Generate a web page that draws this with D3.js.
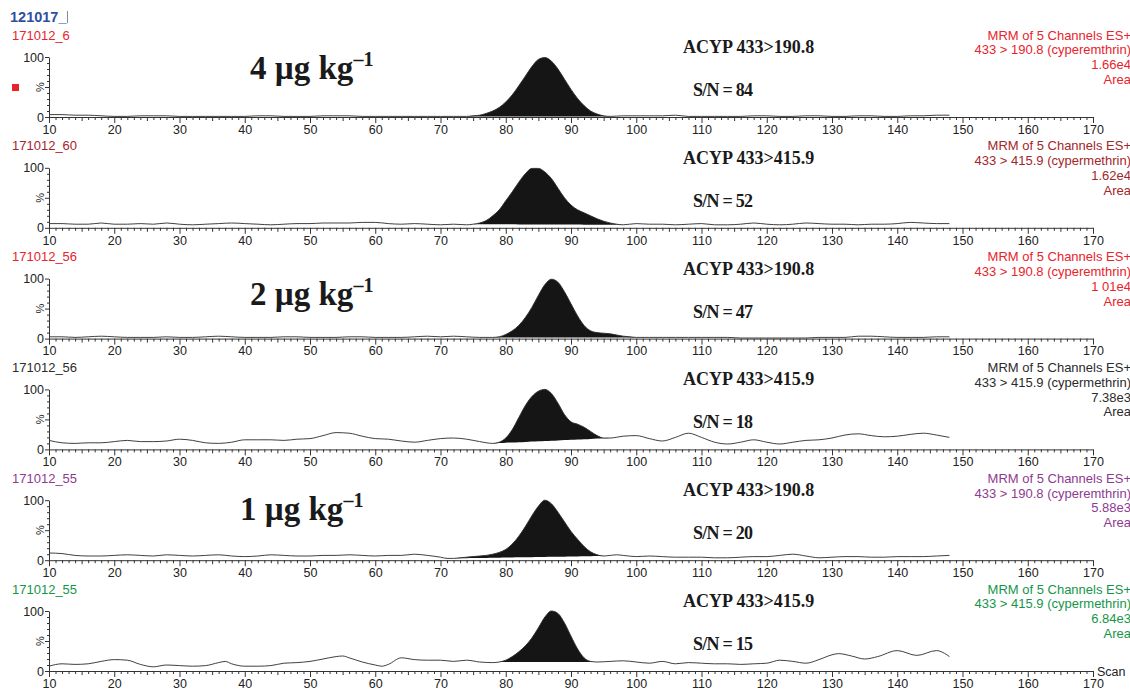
<!DOCTYPE html>
<html><head><meta charset="utf-8">
<script src="https://cdn.jsdelivr.net/npm/d3@7"></script>
<style>body{margin:0;background:#fff}svg{display:block}</style>
</head><body>
<svg id="c" width="1130" height="690"></svg>
<script>
// ---------- data ----------
const xTicks = [10,20,30,40,50,60,70,80,90,100,110,120,130,140,150,160,170];
const headerLabel = "121017_";
const sampleNames = ["171012_6","171012_60","171012_56","171012_56","171012_55","171012_55"];
const panelColors = ["#e8232b","#a3262a","#e8232b","#2b2b2b","#8e3b8f","#14964a"];
const mrmLabel = "MRM of 5 Channels ES+";
const transitions = ["433 > 190.8 (cyperemthrin)","433 > 415.9 (cypermethrin)","433 > 190.8 (cyperemthrin)","433 > 415.9 (cypermethrin)","433 > 190.8 (cyperemthrin)","433 > 415.9 (cypermethrin)"];
const intensities = ["1.66e4","1.62e4","1 01e4","7.38e3","5.88e3","6.84e3"];
const compoundLabels = ["ACYP 433>190.8","ACYP 433>415.9","ACYP 433>190.8","ACYP 433>415.9","ACYP 433>190.8","ACYP 433>415.9"];
const snValues = [84,52,47,18,20,15];
const concLabels = [{panel:0,num:"4"},{panel:2,num:"2"},{panel:4,num:"1"}];
const peakStart = [74,75,78,78,72,79];
const peakEnd   = [96,98,100,96,95,94];

const trace1 = [[10,4],[12,4],[14,3],[16,3],[18,2],[20,1],[22,1],[24,2],[26,2],[28,2],[30,1],[32,1],[34,1],[36,1],[38,1],[40,1],[42,2],[44,2],[46,1],[48,1],[50,1],[52,2],[54,2],[56,2],[58,1],[60,1],[62,1],[64,1],[66,1],[68,1],[70,1],[72,1],[74,1],[75,2],[76,3],[77,6],[78,10],[79,16],[80,25],[81,37],[82,52],[83,68],[84,84],[85,96],[86,99],[87,93],[88,80],[89,63],[90,46],[91,31],[92,19],[93,10],[94,5],[95,2],[96,1],[98,2],[100,2],[102,2],[104,2],[106,3],[108,1],[110,1],[112,1],[114,1],[116,1],[118,2],[120,2],[122,1],[124,1],[126,2],[128,2],[130,1],[132,1],[134,2],[136,2],[138,1],[140,1],[142,2],[144,2],[146,3],[148,3]];
const trace2 = [[10,7],[12,7],[14,6],[16,6],[18,8],[20,6],[22,6],[24,7],[26,6],[28,8],[30,6],[32,5],[34,6],[36,7],[38,8],[40,7],[42,6],[44,5],[46,6],[48,7],[50,7],[52,8],[54,8],[56,8],[58,9],[60,9],[62,7],[64,6],[66,7],[68,6],[70,5],[72,6],[74,5],[75,6],[76,8],[77,12],[78,20],[79,30],[80,45],[81,60],[82,76],[83,90],[84,99],[85,99],[86,93],[87,82],[88,66],[89,50],[90,38],[91,30],[92,25],[93,20],[94,15],[95,11],[96,8],[97,6],[98,5],[100,7],[102,6],[104,6],[106,5],[108,6],[110,7],[112,5],[114,5],[116,6],[118,8],[120,6],[122,5],[124,6],[126,8],[128,7],[130,6],[132,6],[134,5],[136,6],[138,6],[140,7],[142,9],[144,8],[146,7],[148,7]];
const trace3 = [[10,3],[12,3],[14,2],[16,3],[18,4],[20,3],[22,2],[24,2],[26,2],[28,3],[30,2],[32,2],[34,3],[36,4],[38,3],[40,2],[42,2],[44,2],[46,3],[48,3],[50,2],[52,2],[54,2],[56,3],[58,3],[60,2],[62,2],[64,2],[66,3],[68,4],[70,3],[72,4],[74,3],[76,2],[78,2],[79,3],[80,7],[81,13],[82,22],[83,35],[84,52],[85,72],[86,90],[87,99],[88,94],[89,78],[90,58],[91,38],[92,22],[93,13],[94,10],[95,9],[96,8],[97,6],[98,4],[99,3],[100,2],[102,2],[104,2],[106,2],[108,2],[110,2],[112,2],[114,2],[116,1],[118,1],[120,1],[122,1],[124,1],[126,1],[128,2],[130,2],[132,2],[134,4],[136,4],[138,3],[140,2],[142,2],[144,2],[146,3],[148,3]];
const trace4 = [[10,15],[12,11],[14,10],[16,11],[18,11],[20,13],[22,15],[24,13],[26,13],[28,14],[30,17],[32,15],[34,11],[36,10],[38,12],[40,16],[42,16],[44,16],[46,15],[48,17],[50,18],[52,23],[54,28],[56,27],[58,22],[60,18],[62,17],[64,14],[66,12],[68,15],[70,18],[72,19],[74,17],[76,13],[78,10],[79,12],[80,19],[81,33],[82,53],[83,73],[84,88],[85,97],[86,100],[87,93],[88,77],[89,58],[90,46],[91,42],[92,37],[93,30],[94,23],[95,19],[96,19],[98,22],[100,23],[102,18],[104,14],[106,20],[108,27],[110,20],[112,12],[114,9],[116,12],[118,16],[120,12],[122,9],[124,12],[126,15],[128,16],[130,19],[132,24],[134,26],[136,23],[138,21],[140,22],[142,25],[144,27],[146,24],[148,20]];
const trace5 = [[10,12],[12,11],[14,8],[16,7],[18,7],[20,8],[22,9],[24,8],[26,7],[28,9],[30,8],[32,7],[34,8],[36,9],[38,7],[40,6],[42,7],[44,9],[46,8],[48,7],[50,7],[52,8],[54,8],[56,9],[58,8],[60,7],[62,8],[64,8],[66,10],[68,8],[70,5],[71,3],[72,3],[73,4],[74,5],[75,6],[76,7],[77,8],[78,10],[79,13],[80,18],[81,27],[82,40],[83,56],[84,74],[85,90],[86,100],[87,94],[88,80],[89,64],[90,48],[91,35],[92,23],[93,14],[94,9],[95,7],[96,8],[97,9],[98,8],[100,6],[102,7],[104,6],[106,5],[108,5],[110,5],[112,4],[114,4],[116,5],[118,6],[120,6],[122,8],[124,10],[126,7],[128,4],[130,5],[132,6],[134,6],[136,5],[138,5],[140,6],[142,6],[144,6],[146,7],[148,8]];
const trace6 = [[10,8],[12,12],[14,11],[16,12],[18,16],[20,19],[22,18],[24,11],[26,7],[28,10],[30,9],[32,8],[34,9],[36,14],[37,16],[38,12],[40,8],[42,8],[44,9],[46,13],[48,14],[50,16],[52,20],[54,24],[55,25],[56,22],[58,15],[60,10],[61,8],[62,11],[64,22],[66,19],[68,18],[70,18],[72,16],[74,18],[76,15],[78,14],[79,15],[80,18],[81,24],[82,32],[83,42],[84,55],[85,72],[86,90],[87,100],[88,96],[89,80],[90,58],[91,37],[92,22],[93,16],[94,15],[96,16],[98,17],[100,15],[102,13],[104,16],[106,12],[108,14],[110,13],[112,12],[114,12],[116,11],[118,12],[120,13],[122,18],[124,16],[126,13],[128,19],[130,27],[131,29],[133,25],[135,20],[137,24],[140,34],[143,26],[146,34],[148,24]];
const traces = [trace1,trace2,trace3,trace4,trace5,trace6];

// ---------- layout ----------
const svg = d3.select("#c");
const sans = "'Liberation Sans', Arial, sans-serif";
const serif = "'Liberation Serif', 'Times New Roman', serif";
const x = d3.scaleLinear().domain([10,170]).range([49,1093]);
const panelStep = 110.8, firstZero = 117, panelH = 60;

svg.append("text").attr("x",10).attr("y",22).attr("font-family",sans).attr("font-weight","bold")
  .attr("font-size",14.5).attr("fill","#2f4f9f").text(headerLabel);
svg.append("line").attr("x1",67.5).attr("x2",67.5).attr("y1",11).attr("y2",23).attr("stroke","#8a8a8a").attr("stroke-width",1);

traces.forEach((tr,i)=>{
  const z = firstZero + i*panelStep;
  const y = d3.scaleLinear().domain([0,100]).range([z, z-panelH]);
  const g = svg.append("g");
  const col = panelColors[i];

  // sample name
  g.append("text").attr("x",12).attr("y",z-77.5).attr("font-family",sans).attr("font-size",13)
    .attr("fill",col).text(sampleNames[i]);

  // right labels
  const rl = [mrmLabel, transitions[i], intensities[i], "Area"];
  rl.forEach((t,k)=>{
    g.append("text").attr("x",1131).attr("y",z-77.5+k*14.8).attr("text-anchor","end")
      .attr("font-family",sans).attr("font-size",13).attr("fill",col).text(t);
  });

  // peak fill
  const s = peakStart[i], e = peakEnd[i];
  const seg = tr.filter(d=>d[0]>=s && d[0]<=e);
  const base = d3.scaleLinear().domain([s,e]).range([seg[0][1], seg[seg.length-1][1]]);
  g.append("path").datum(seg)
    .attr("d", d3.area().x(d=>x(d[0])).y0(d=>y(base(d[0]))).y1(d=>y(d[1])).curve(d3.curveMonotoneX))
    .attr("fill","#151515");

  // trace
  g.append("path").datum(tr)
    .attr("d", d3.line().x(d=>x(d[0])).y(d=>y(d[1])).curve(d3.curveMonotoneX))
    .attr("fill","none").attr("stroke","#2a2a2a").attr("stroke-width",0.9);

  // x axis
  const xa = g.append("g").attr("transform",`translate(0,${z})`)
    .call(d3.axisBottom(x).tickValues(xTicks).tickSize(6).tickSizeOuter(0).tickPadding(2).tickFormat(d3.format("d")));
  const xm = g.append("g").attr("transform",`translate(0,${z})`)
    .call(d3.axisBottom(x).tickValues(d3.range(10,171,1).filter(v=>v%10!==0)).tickSize(3).tickSizeOuter(0).tickFormat(""));
  xm.selectAll(".tick line").filter(d=>d%5===0).attr("y2",4);
  xm.select(".domain").remove();
  [xa,xm].forEach(a=>{
    a.selectAll("path,line").attr("stroke","#333").attr("stroke-width",1);
    a.selectAll("text").attr("font-family",sans).attr("font-size",12.5).attr("fill","#222");
  });

  // y axis
  const ya = g.append("g").attr("transform","translate(49,0)")
    .call(d3.axisLeft(y).tickValues([0,100]).tickSize(4).tickSizeOuter(0).tickPadding(1));
  const ym = g.append("g").attr("transform","translate(49,0)")
    .call(d3.axisLeft(y).tickValues(d3.range(10,100,10)).tickSize(2).tickSizeOuter(0).tickFormat(""));
  ym.selectAll(".tick line").filter(d=>d===50).attr("x2",-4);
  ym.select(".domain").remove();
  [ya,ym].forEach(a=>{
    a.selectAll("path,line").attr("stroke","#333").attr("stroke-width",1);
    a.selectAll("text").attr("font-family",sans).attr("font-size",12.5).attr("fill","#222");
  });
  g.append("text").attr("transform",`translate(${44},${z-30}) rotate(-90)`).attr("text-anchor","middle")
    .attr("font-family",sans).attr("font-size",11).attr("fill","#222").text("%");

  // annotations
  g.append("text").attr("x",683).attr("y",z-64).attr("font-family",serif).attr("font-weight","bold")
    .attr("font-size",18).attr("fill","#1a1a1a").text(compoundLabels[i]);
  g.append("text").attr("x",693).attr("y",z-21).attr("font-family",serif).attr("font-weight","bold")
    .attr("font-size",18).attr("fill","#1a1a1a")
    .attr("textLength",60).attr("lengthAdjust","spacing").text("S/N = " + snValues[i]);

  if (i===5) {
    g.append("text").attr("x",1097).attr("y",z+5).attr("font-family",sans).attr("font-size",12.5)
      .attr("fill","#222").text("Scan");
  }
});

// red marker
svg.append("rect").attr("x",12).attr("y",84).attr("width",7).attr("height",7).attr("fill","#e8232b");

// concentration labels
const concX = {"4":250,"2":250,"1":240};
const concOffset = {"4":38,"2":34,"1":40};
concLabels.forEach(c=>{
  const z = firstZero + c.panel*panelStep;
  const t = svg.append("text").attr("x",concX[c.num]).attr("y",z-concOffset[c.num]).attr("font-family",serif)
    .attr("font-weight","bold").attr("font-size",33).attr("fill","#1a1a1a");
  t.append("tspan").text(c.num + " µg kg");
  t.append("tspan").attr("dy",-13).attr("font-size",20).text("–1");
});
</script>
</body></html>
